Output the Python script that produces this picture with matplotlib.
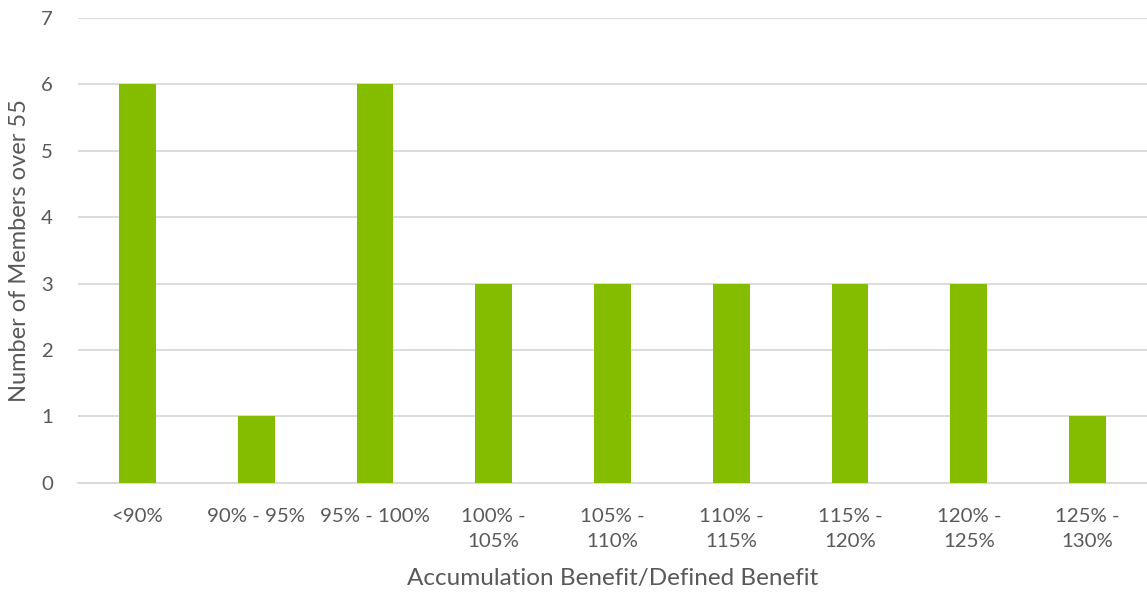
import matplotlib.pyplot as plt
import numpy as np

plt.rcParams['font.family'] = ['Lato', 'DejaVu Sans']

categories = ['<90%', '90% - 95%', '95% - 100%', '100% -\n105%', '105% -\n110%',
              '110% -\n115%', '115% -\n120%', '120% -\n125%', '125% -\n130%']
members = [6, 1, 6, 3, 3, 3, 3, 3, 1]

grey = '#595959'
fig = plt.figure(figsize=(11.47, 5.96), dpi=100)
ax = fig.add_axes([0.068, 0.19, 0.932, 0.78])

x = np.arange(len(categories))
ax.bar(x, members, width=0.31, color='#84BC00', zorder=3)

ax.set_xlim(-0.5, len(categories) - 0.5)
ax.set_ylim(0, 7)
ax.set_yticks(range(0, 8))
ax.yaxis.grid(True, color='#D9D9D9', linewidth=1.3, zorder=0)
ax.set_xticks(x)
ax.set_xticklabels(categories, fontsize=14.7, color=grey, linespacing=1.6)
ax.tick_params(axis='y', labelsize=14.7, labelcolor=grey, length=0, pad=18)
ax.tick_params(axis='x', length=0, pad=18)
for s in ['top', 'right', 'left']:
    ax.spines[s].set_visible(False)
ax.spines['bottom'].set_color('#D9D9D9')
ax.spines['bottom'].set_linewidth(1.3)

ax.set_xlabel('Accumulation Benefit/Defined Benefit', fontsize=17.5, color=grey, labelpad=13)
ax.set_ylabel('Number of Members over 55', fontsize=17, color=grey, labelpad=8)

fig.savefig('out.png', dpi=100)
